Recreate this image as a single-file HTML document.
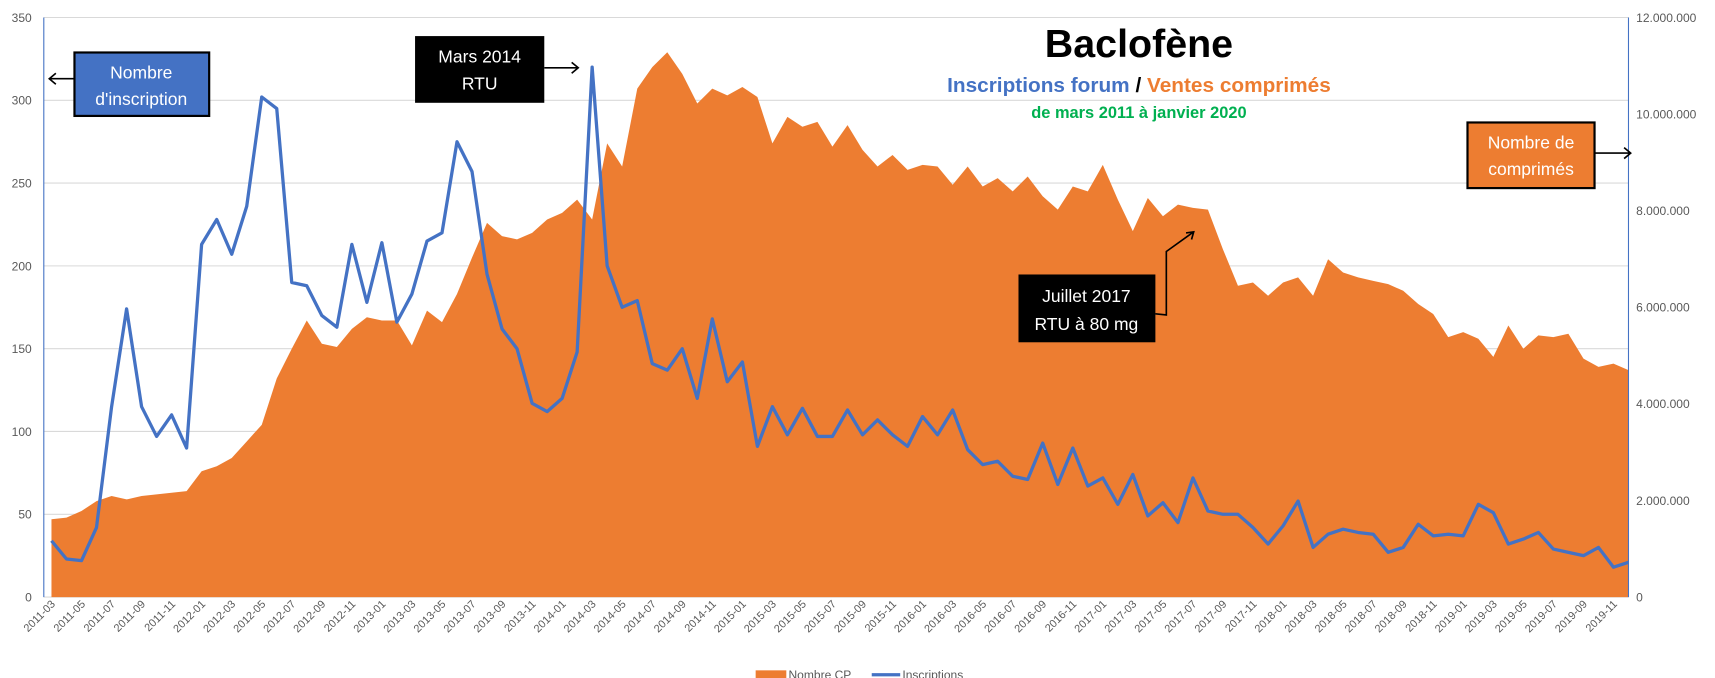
<!DOCTYPE html>
<html><head><meta charset="utf-8"><style>
html,body{margin:0;padding:0;background:#fff;overflow:hidden}
svg{display:block}
text{font-family:"Liberation Sans",sans-serif}
</style></head><body>
<svg id="s" width="1715" height="678" viewBox="0 0 1566 620" preserveAspectRatio="none" xmlns="http://www.w3.org/2000/svg">
<g id="grid"></g>
<path id="area" fill="#ED7D31"/>
<polyline id="line" fill="none" stroke="#4472C4" stroke-width="3" stroke-linejoin="round"/>
<line x1="40" y1="16" x2="40" y2="546" stroke="#4472C4" stroke-width="1"/>
<line x1="1487" y1="16" x2="1487" y2="546" stroke="#4472C4" stroke-width="1"/>
<g id="ticks" font-size="11" fill="#595959"></g>
<text x="1040" y="52" text-anchor="middle" font-size="36" font-weight="bold" fill="#000">Baclofène</text>
<text x="1040" y="84" text-anchor="middle" font-size="19" font-weight="bold"><tspan fill="#4472C4">Inscriptions forum</tspan><tspan fill="#000"> / </tspan><tspan fill="#ED7D31">Ventes comprimés</tspan></text>
<text x="1040" y="108" text-anchor="middle" font-size="15" font-weight="bold" fill="#00B050">de mars 2011 à janvier 2020</text>
<rect x="68" y="48" width="123" height="58" fill="#4472C4" stroke="#000" stroke-width="2"/>
<text x="129" y="72" text-anchor="middle" font-size="16" fill="#fff">Nombre</text>
<text x="129" y="96" text-anchor="middle" font-size="16" fill="#fff">d'inscription</text>
<path d="M68 72 H45 M51 67 L45 72 L51 77" stroke="#000" stroke-width="1.5" fill="none"/>
<rect x="379" y="33" width="118" height="61" fill="#000"/>
<text x="438" y="57" text-anchor="middle" font-size="16" fill="#fff">Mars 2014</text>
<text x="438" y="82" text-anchor="middle" font-size="16" fill="#fff">RTU</text>
<path d="M497 62 H528 M522 57 L528 62 L522 67" stroke="#000" stroke-width="1.5" fill="none"/>
<rect x="1340" y="112" width="116" height="60" fill="#ED7D31" stroke="#000" stroke-width="2"/>
<text x="1398" y="136" text-anchor="middle" font-size="16" fill="#fff">Nombre de</text>
<text x="1398" y="160" text-anchor="middle" font-size="16" fill="#fff">comprimés</text>
<path d="M1456 140 H1489 M1483 135 L1489 140 L1483 145" stroke="#000" stroke-width="1.5" fill="none"/>
<rect x="930" y="251" width="125" height="62" fill="#000"/>
<text x="992" y="276" text-anchor="middle" font-size="16" fill="#fff">Juillet 2017</text>
<text x="992" y="302" text-anchor="middle" font-size="16" fill="#fff">RTU à 80 mg</text>
<path d="M1055 287 L1065 288 L1065 230 L1090 212 M1083 213 L1090 212 L1088 219" stroke="#000" stroke-width="1.5" fill="none"/>
<rect x="690" y="613" width="28" height="8" fill="#ED7D31"/>
<text x="720" y="621" font-size="11" fill="#595959">Nombre CP</text>
<line x1="796" y1="617" x2="822" y2="617" stroke="#4472C4" stroke-width="3"/>
<text x="824" y="621" font-size="11" fill="#595959">Inscriptions</text>
</svg>
<script>
var ins=[34,23,22,42,115,174,115,97,110,90,213,228,207,236,302,295,190,188,170,163,213,178,214,166,183,215,220,275,257,195,162,150,117,112,120,148,320,200,175,179,141,137,150,120,168,130,142,91,115,98,114,97,97,113,98,107,98,91,109,98,113,89,80,82,73,71,93,68,90,67,72,56,74,49,57,45,72,52,50,50,42,32,43,58,30,38,41,39,38,27,30,44,37,38,37,56,51,32,35,39,29,27,25,30,18,21];
var cp=[47,48,52,58,61,59,61,62,63,64,76,79,84,94,104,132,150,167,153,151,162,169,167,167,152,173,166,183,205,226,218,216,220,228,232,240,228,274,260,307,320,329,316,298,307,303,308,302,274,290,284,287,272,285,270,260,267,258,261,260,249,260,248,253,245,254,242,234,248,245,261,240,221,241,230,237,235,234,210,188,190,182,190,193,182,204,196,193,191,189,185,177,171,157,160,156,145,164,150,158,157,159,144,139,141,137];
var n=ins.length,x0=47,dx=(1487-47)/(n-1);
function X(i){return x0+i*dx}function Y(v){return 546-v*530/350}
var d="M"+X(0)+" 546";for(var i=0;i<n;i++)d+=" L"+X(i).toFixed(1)+" "+Y(cp[i]).toFixed(1);d+=" L"+X(n-1)+" 546Z";
document.getElementById('area').setAttribute('d',d);
var p=[];for(i=0;i<n;i++)p.push(X(i).toFixed(1)+","+Y(ins[i]).toFixed(1));
document.getElementById('line').setAttribute('points',p.join(' '));
var g='',t='';
for(var k=0;k<=7;k++){var y=Y(k*50);g+='<line x1="40" y1="'+y+'" x2="1487" y2="'+y+'" stroke="#D9D9D9" stroke-width="1"/>';
t+='<text x="29" y="'+(y+4)+'" text-anchor="end">'+(k*50)+'</text>';}
var rl=['0','2.000.000','4.000.000','6.000.000','8.000.000','10.000.000','12.000.000'];
for(k=0;k<=6;k++){var y2=546-k*530/6;t+='<text x="1494" y="'+(y2+4)+'">'+rl[k]+'</text>';}
for(i=0;i<n;i+=2){var m=2+i,yr=2011+Math.floor(m/12),mo=m%12+1;var lab=yr+'-'+(mo<10?'0':'')+mo;
var xx=X(i)+4;t+='<text transform="translate('+xx+',553) rotate(-45)" text-anchor="end" font-size="10">'+lab+'</text>';}
document.getElementById('grid').innerHTML=g;document.getElementById('ticks').innerHTML=t;
</script>
</body></html>
